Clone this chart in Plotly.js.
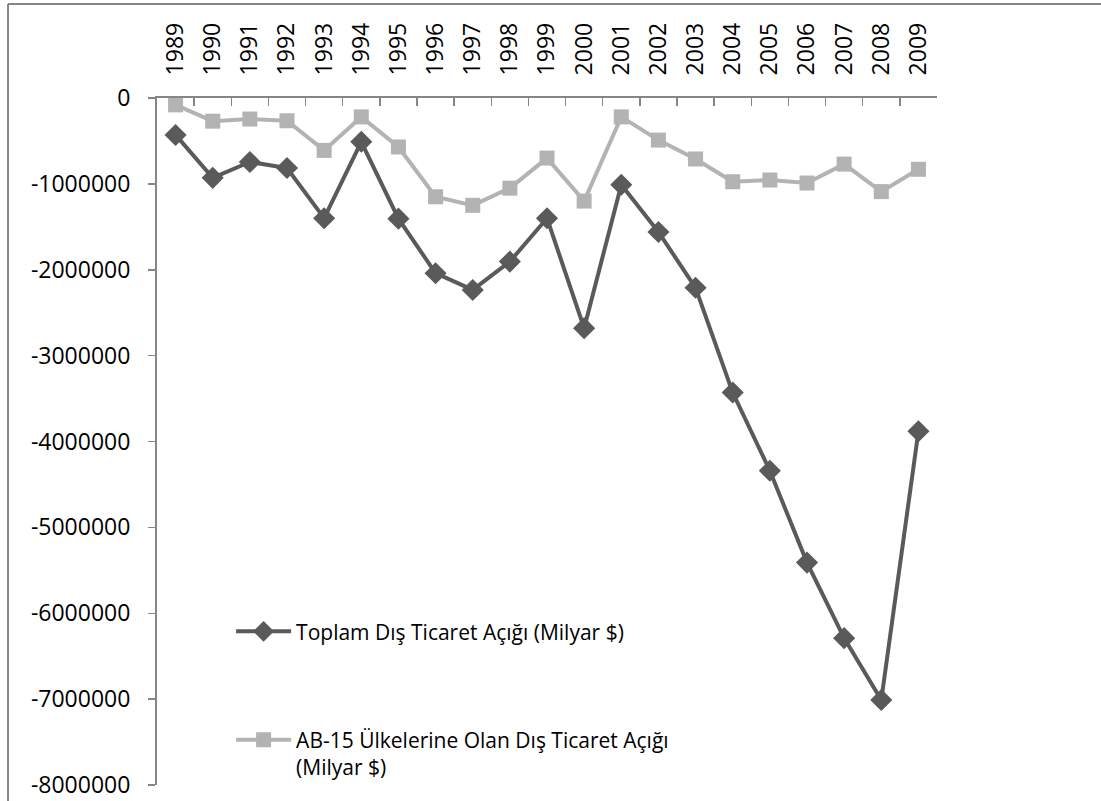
<!DOCTYPE html>
<html>
<head>
<meta charset="utf-8">
<script src="https://cdn.plot.ly/plotly-3.0.1.min.js"></script>
<style>
html,body{margin:0;padding:0;background:#fff;}
#chart{width:1101px;height:801px;}
</style>
</head>
<body>
<div id="chart"></div>
<script>
const years = ["1989","1990","1991","1992","1993","1994","1995","1996","1997","1998","1999","2000","2001","2002","2003","2004","2005","2006","2007","2008","2009"];
const toplamAcik = [-430000,-930000,-745000,-815000,-1400000,-510000,-1405000,-2040000,-2235000,-1905000,-1400000,-2680000,-1010000,-1560000,-2210000,-3430000,-4340000,-5410000,-6290000,-7010000,-3880000];
const ab15Acik = [-80000,-270000,-245000,-265000,-610000,-220000,-570000,-1150000,-1250000,-1050000,-700000,-1200000,-220000,-490000,-710000,-975000,-955000,-990000,-770000,-1090000,-830000];
const seriesNames = ["Toplam Dış Ticaret Açığı (Milyar $)", "AB-15 Ülkelerine Olan Dış Ticaret Açığı<br>(Milyar $)"];
const yTicks = [0,-1000000,-2000000,-3000000,-4000000,-5000000,-6000000,-7000000,-8000000];
const yTickText = ["0","-1000000","-2000000","-3000000","-4000000","-5000000","-6000000","-7000000","-8000000"];

const FONT = "'Open Sans', 'Noto Sans', sans-serif";
const axisGray = "#868686";

const traces = [
  {
    x: years, y: toplamAcik, name: seriesNames[0], type: "scatter", mode: "lines+markers",
    line: {color: "#5a5a5a", width: 4},
    marker: {symbol: "diamond", size: 17, color: "#5a5a5a"},
    legendgroup: "a"
  },
  {
    x: years, y: ab15Acik, name: seriesNames[1], type: "scatter", mode: "lines+markers",
    line: {color: "#b3b3b3", width: 4},
    marker: {symbol: "square", size: 15, color: "#b3b3b3"},
    legendgroup: "b"
  }
];

const layout = {
  width: 1101, height: 801,
  margin: {l: 157, r: 164, t: 98, b: 16, pad: 0},
  paper_bgcolor: "#fff", plot_bgcolor: "#fff",
  font: {family: FONT, size: 20, color: "#000"},
  showlegend: true,
  legend: {
    x: 0.095, y: 0.253, xanchor: "left", yanchor: "top",
    bgcolor: "rgba(0,0,0,0)", font: {family: FONT, size: 21, color: "#000"},
    tracegroupgap: 78, valign: "top", traceorder: "grouped", itemwidth: 55
  },
  xaxis: {
    type: "category", side: "top", range: [-0.5, 20.5],
    tickson: "boundaries", ticks: "inside", ticklen: 8, tickcolor: axisGray, tickwidth: 1.5,
    showline: true, linecolor: axisGray, linewidth: 2, showgrid: false, zeroline: false,
    tickangle: -90, tickfont: {family: FONT, size: 23, color: "#000"},
    ticklabelstandoff: 16, fixedrange: true
  },
  yaxis: {
    range: [-8000000, 0], tickvals: yTicks, ticktext: yTickText,
    ticks: "outside", ticklen: 7, tickcolor: axisGray, tickwidth: 1.5,
    showline: true, linecolor: axisGray, linewidth: 2, showgrid: false, zeroline: false,
    tickfont: {family: FONT, size: 23, color: "#000"},
    ticklabelstandoff: 13, fixedrange: true
  },
  shapes: [
    {type: "line", xref: "paper", yref: "paper", x0: -0.191, x1: -0.191, y0: -0.05, y1: 1.1368, line: {color: axisGray, width: 2}},
    {type: "line", xref: "paper", yref: "paper", x0: -0.191, x1: 1.25, y0: 1.1368, y1: 1.1368, line: {color: axisGray, width: 2}}
  ]
};

Plotly.newPlot("chart", traces, layout, {displayModeBar: false, staticPlot: true});
</script>
</body>
</html>
